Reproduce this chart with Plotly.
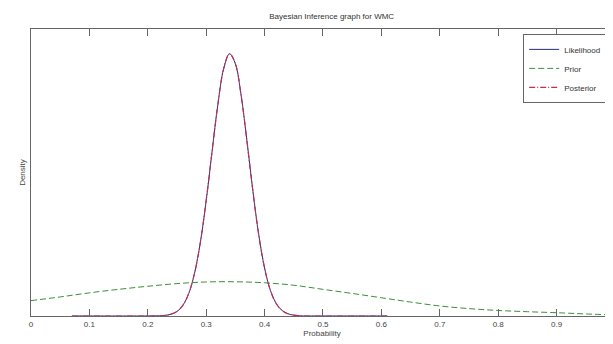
import plotly.graph_objects as go

# ---- data ----
lik_x = [0.07, 0.20, 0.22, 0.23, 0.24, 0.25, 0.26, 0.27, 0.28, 0.29, 0.30, 0.31, 0.32, 0.33,
         0.34, 0.35, 0.36, 0.37, 0.38, 0.39, 0.40, 0.41, 0.42, 0.43, 0.44, 0.45, 0.46, 0.47,
         0.50, 0.61]
lik_y = [0.0, 0.0, 0.01, 0.03, 0.09, 0.22, 0.52, 1.09, 2.08, 3.59, 5.63, 8.01, 10.32, 12.07,
         12.79, 12.30, 10.73, 8.49, 6.09, 3.96, 2.34, 1.25, 0.61, 0.27, 0.11, 0.04, 0.01, 0.0,
         0.0, 0.0]
post_x = lik_x
post_y = [0.0, 0.0, 0.01, 0.03, 0.09, 0.22, 0.52, 1.09, 2.08, 3.60, 5.64, 8.02, 10.33, 12.08,
          12.80, 12.30, 10.72, 8.48, 6.08, 3.95, 2.33, 1.24, 0.60, 0.27, 0.11, 0.04, 0.01, 0.0,
          0.0, 0.0]
prior_x = [0.0, 0.05, 0.10, 0.15, 0.20, 0.25, 0.30, 0.35, 0.40, 0.45, 0.50, 0.55, 0.60, 0.65,
           0.70, 0.75, 0.80, 0.85, 0.90, 0.95, 1.0]
prior_y = [0.75, 0.93, 1.13, 1.30, 1.45, 1.58, 1.66, 1.67, 1.62, 1.50, 1.30, 1.10, 0.89, 0.68,
           0.49, 0.36, 0.27, 0.21, 0.16, 0.10, 0.05]
tick_vals = [0, 0.1, 0.2, 0.3, 0.4, 0.5, 0.6, 0.7, 0.8, 0.9, 1.0]
tick_text = ["0", "0.1", "0.2", "0.3", "0.4", "0.5", "0.6", "0.7", "0.8", "0.9", "1"]

FONT = "Liberation Sans Narrow, Arial Narrow, Liberation Sans, sans-serif"

fig = go.Figure()
fig.add_trace(go.Scatter(x=lik_x, y=lik_y, mode="lines", name="Likelihood",
                         line=dict(color="#2a2a80", width=1, shape="spline")))
fig.add_trace(go.Scatter(x=prior_x, y=prior_y, mode="lines", name="Prior",
                         line=dict(color="#3a8f3a", width=1, dash="6px,3px", shape="spline")))
fig.add_trace(go.Scatter(x=post_x, y=post_y, mode="lines", name="Posterior",
                         line=dict(color="#c0304a", width=1.2, dash="6px,2px,1px,2px",
                                   shape="spline")))

# the page body has an 8px default margin, so the figure is sized to end at the window edge
fig.update_layout(
    width=605, height=336,
    margin=dict(l=23, r=0, t=21, b=28),
    plot_bgcolor="white", paper_bgcolor="white",
    font=dict(family=FONT, size=8, color="#444444"),
    title=dict(text="Bayesian Inference graph for WMC", x=0.535, xanchor="center",
               y=1 - 8 / 336, yanchor="middle", font=dict(size=8, color="#333333")),
    showlegend=True,
    legend=dict(x=0.99, y=0.983, xanchor="right", yanchor="top",
                bgcolor="white", bordercolor="#666666", borderwidth=1,
                font=dict(size=8, color="#333333"), itemwidth=30,
                tracegroupgap=0),
)
fig.update_xaxes(range=[0, 0.9966], tickvals=tick_vals, ticktext=tick_text,
                 ticks="inside", ticklen=7, tickcolor="#666666",
                 showline=True, linecolor="#666666", linewidth=1, mirror="ticks",
                 showgrid=False, zeroline=False, automargin=False,
                 title=dict(text="Probability", standoff=2, font=dict(size=8)))
fig.update_yaxes(range=[0, 14], showticklabels=False, ticks="",
                 showline=True, linecolor="#666666", linewidth=1, mirror=False,
                 showgrid=False, zeroline=False, automargin=False,
                 title=dict(text="Density", standoff=3, font=dict(size=8)))

fig.write_html("out.html")
